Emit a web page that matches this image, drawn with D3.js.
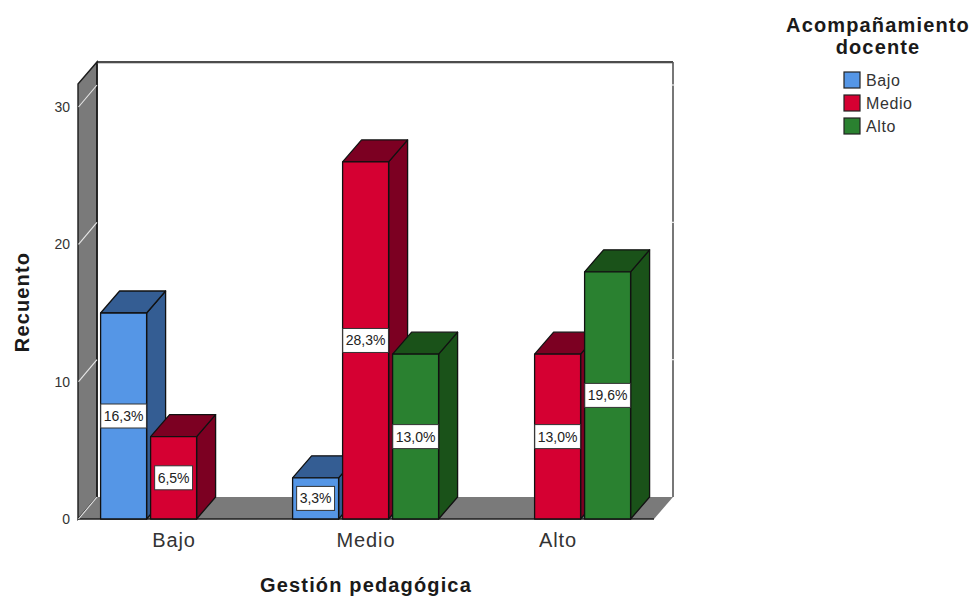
<!DOCTYPE html>
<html><head><meta charset="utf-8">
<script src="https://cdn.jsdelivr.net/npm/d3@7/dist/d3.min.js"></script>
<style>html,body{margin:0;padding:0;background:#fff}svg{display:block}text{font-family:"Liberation Sans",Arial,sans-serif;fill:#1a1a1a}</style>
</head><body><svg id="c" width="972" height="597"></svg>
<script>
const categories = ["Bajo","Medio","Alto"];
const seriesNames = ["Bajo","Medio","Alto"];
const bajoCounts = [15,3,null];
const medioCounts = [6,26,12];
const altoCounts = [null,12,18];
const bajoPct = ["16,3%","3,3%",null];
const medioPct = ["6,5%","28,3%","13,0%"];
const altoPct = [null,"13,0%","19,6%"];
const yTicks = [0,10,20,30];
const frontColors = ["#5596E6","#D50032","#2A8130"];
const topColors = ["#345D93","#7C0022","#1A5219"];
const sideColors = ["#345D93","#7C0022","#1A5219"];

const svg = d3.select("#c");
const dx = 19, dy = 22;
const x0 = d3.scaleBand().domain(categories).range([78,654]);
const x1 = d3.scaleBand().domain(seriesNames).range([22.6,168.6]).paddingInner(0.08).paddingOuter(0);
const y = d3.scaleLinear().domain([0,30]).range([519,107]);
const frontTop = y(30) - 23, backTop = frontTop - dy;
const wallFill = "#7A7A7A", ink = "#1c1c1c";

// walls
const [L,R] = x0.range(), B = y(0);
svg.append("polygon").attr("points",[[L,frontTop],[L+dx,backTop],[L+dx,B-dy],[L,B]].join(" "))
  .attr("fill",wallFill).attr("stroke",ink).attr("stroke-width",1.4);
svg.append("polygon").attr("points",[[L,B],[L+dx,B-dy],[R+dx,B-dy],[R,B]].join(" "))
  .attr("fill",wallFill).attr("stroke","none");
svg.append("line").attr("x1",L+dx).attr("x2",R+dx).attr("y1",backTop).attr("y2",backTop).attr("stroke","#111").attr("stroke-width",1.6);
svg.append("line").attr("x1",L+dx).attr("x2",R+dx).attr("y1",backTop+1.5).attr("y2",backTop+1.5).attr("stroke","#ccc").attr("stroke-width",1);
svg.append("line").attr("x1",R+dx).attr("x2",R+dx).attr("y1",backTop).attr("y2",B-dy).attr("stroke","#555").attr("stroke-width",1.6);
svg.append("line").attr("x1",L+dx).attr("x2",L+dx).attr("y1",backTop).attr("y2",B-dy).attr("stroke",ink).attr("stroke-width",1.6);
svg.append("line").attr("x1",L).attr("x2",R).attr("y1",B).attr("y2",B).attr("stroke",ink).attr("stroke-width",1.6);

// gridlines
yTicks.forEach(t=>{
  svg.append("line").attr("x1",L+0.5).attr("y1",y(t)).attr("x2",L+dx).attr("y2",y(t)-dy).attr("stroke","#e8e8e8").attr("stroke-width",1.1);
  if(t>0) svg.append("line").attr("x1",R+dx-1.5).attr("x2",R+dx+1.5).attr("y1",y(t)-dy).attr("y2",y(t)-dy).attr("stroke","#eee").attr("stroke-width",1.2);
});

// bars
const rows = [];
categories.forEach((c,i)=>{
  [[bajoCounts,bajoPct],[medioCounts,medioPct],[altoCounts,altoPct]].forEach((s,j)=>{
    if(s[0][i]!==null) rows.push({c,j,v:s[0][i],p:s[1][i]});
  });
});
const bx = d=>x0(d.c)+x1(seriesNames[d.j]), w = x1.bandwidth();
const g = svg.append("g").selectAll("g").data(rows).join("g")
  .attr("stroke","#111").attr("stroke-width",1.3).attr("stroke-linejoin","round");
g.append("polygon").attr("fill",d=>sideColors[d.j])
  .attr("points",d=>[[bx(d)+w,y(d.v)],[bx(d)+w+dx,y(d.v)-dy],[bx(d)+w+dx,B-dy],[bx(d)+w,B]].join(" "));
g.append("polygon").attr("fill",d=>topColors[d.j])
  .attr("points",d=>[[bx(d),y(d.v)],[bx(d)+dx,y(d.v)-dy],[bx(d)+w+dx,y(d.v)-dy],[bx(d)+w,y(d.v)]].join(" "));
g.append("rect").attr("fill",d=>frontColors[d.j])
  .attr("x",bx).attr("y",d=>y(d.v)).attr("width",w).attr("height",d=>B-y(d.v));

// value labels
const lab = svg.append("g").selectAll("g").data(rows).join("g")
  .attr("transform",d=>`translate(${bx(d)+w/2},${(y(d.v)+B)/2})`);
const lr = lab.append("rect").attr("fill","#fff").attr("stroke","#333").attr("stroke-width",1);
const lt = lab.append("text").attr("text-anchor","middle").attr("y",5).attr("font-size",14).style("fill","#222").text(d=>d.p);
lt.each(function(d){d.tw=this.getComputedTextLength();});
lr.attr("x",d=>-d.tw/2-3).attr("width",d=>d.tw+6).attr("y",-12).attr("height",24);

// axes
const ay = svg.append("g").attr("transform",`translate(${L},0)`)
  .call(d3.axisLeft(y).tickValues(yTicks).tickSize(0).tickPadding(8).tickFormat(d3.format("d")));
ay.select(".domain").remove();
ay.selectAll("text").attr("font-size",14).attr("font-family",null).style("fill","#333");
const ax = svg.append("g").attr("transform",`translate(0,${B})`)
  .call(d3.axisBottom(x0).tickSize(0).tickPadding(14));
ax.select(".domain").remove();
ax.selectAll("text").attr("font-size",20).attr("font-family",null).style("fill","#333").style("letter-spacing","0.9px");

// titles
const titleStyle = s=>s.attr("font-size",20).attr("font-weight","bold").attr("text-anchor","middle").style("letter-spacing","1.15px");
svg.append("text").attr("x",366).attr("y",592).call(titleStyle).text("Gestión pedagógica");
svg.append("text").attr("transform","translate(29,302) rotate(-90)").call(titleStyle).text("Recuento");

// legend
svg.append("text").attr("x",878).attr("y",32).call(titleStyle).text("Acompañamiento");
svg.append("text").attr("x",878).attr("y",54).call(titleStyle).text("docente");
const ly = d3.scalePoint().domain(seriesNames).range([80,126]);
const leg = svg.append("g").selectAll("g").data(seriesNames).join("g").attr("transform",d=>`translate(844,${ly(d)})`);
leg.append("rect").attr("x",0).attr("y",-8).attr("width",16).attr("height",16).attr("fill",(d,i)=>frontColors[i]).attr("stroke","#222").attr("stroke-width",1.2);
leg.append("text").attr("x",22).attr("y",6).attr("font-size",16).style("fill","#333").style("letter-spacing","0.6px").text(d=>d);
</script></body></html>
